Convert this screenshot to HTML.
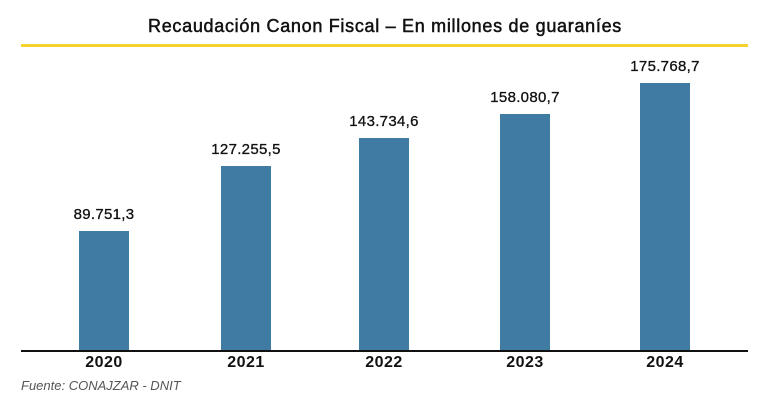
<!DOCTYPE html>
<html><head><style>
body{margin:0;width:770px;height:405px;background:#fff;position:relative;overflow:hidden;font-family:"Liberation Sans",sans-serif;}
.a{position:absolute;}
.bar{position:absolute;background:#3f7ba2;width:50px;bottom:55px;}
.v{position:absolute;width:120px;text-align:center;font-size:15px;color:#111;-webkit-text-stroke:0.3px #111;letter-spacing:0.3px;}
.y{position:absolute;width:120px;text-align:center;font-size:16px;font-weight:bold;color:#111;top:354px;letter-spacing:0.5px;}
</style></head><body>
<div class="a" style="left:0;width:770px;top:16px;text-align:center;font-size:18px;color:#111;-webkit-text-stroke:0.5px #111;letter-spacing:0.7px;">Recaudación Canon Fiscal – En millones de guaraníes</div>
<div class="a" style="left:21px;width:727px;top:44px;height:3px;background:#f5d22e;"></div>
<div class="bar" style="left:79px;top:231px;"></div>
<div class="bar" style="left:221px;top:166px;"></div>
<div class="bar" style="left:359px;top:138px;"></div>
<div class="bar" style="left:500px;top:114px;"></div>
<div class="bar" style="left:640px;top:83px;"></div>
<div class="v" style="left:44px;top:206px;">89.751,3</div>
<div class="v" style="left:186px;top:141px;">127.255,5</div>
<div class="v" style="left:324px;top:113px;">143.734,6</div>
<div class="v" style="left:465px;top:89px;">158.080,7</div>
<div class="v" style="left:605px;top:58px;">175.768,7</div>
<div class="a" style="left:21px;width:727px;top:350px;height:2px;background:#111;"></div>
<div class="y" style="left:44px;">2020</div>
<div class="y" style="left:186px;">2021</div>
<div class="y" style="left:324px;">2022</div>
<div class="y" style="left:465px;">2023</div>
<div class="y" style="left:605px;">2024</div>
<div class="a" style="left:21px;top:378px;font-size:13px;font-style:italic;color:#555;">Fuente: CONAJZAR - DNIT</div>
</body></html>
